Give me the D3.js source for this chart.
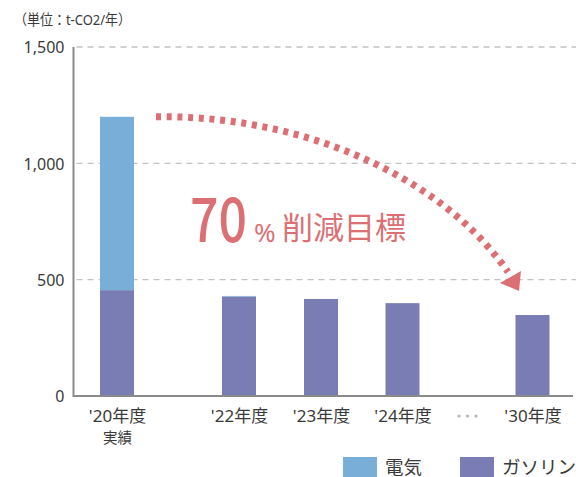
<!DOCTYPE html>
<html>
<head>
<meta charset="utf-8">
<script src="https://cdn.jsdelivr.net/npm/d3@7"></script>
<style>
  html, body { margin: 0; padding: 0; background: #fff; }
  svg { display: block; }
  text { font-family: 'Noto Sans', 'Noto Sans CJK JP', sans-serif; fill: #3a3a3a; }
</style>
</head>
<body>
<svg id="chart" width="576" height="477"></svg>
<script>
// ---- data ----
const categories = ["'20年度", "'22年度", "'23年度", "'24年度", "'30年度"];
const subLabels = ["実績", "", "", "", ""];
const electricity = [745, 3, 0, 0, 0];
const gasoline = [455, 427, 417, 399, 348];
const seriesNames = ["電気", "ガソリン"];
const yTicks = [0, 500, 1000, 1500];
const unitLabel = "（単位：t-CO2/年）";
const targetNumber = "70";
const targetPercent = "%";
const targetText = "削減目標";

// ---- styles ----
const colors = { "電気": "#79aed9", "ガソリン": "#7a7db4" };
const red = "#dc6f73";

const svg = d3.select("#chart");

const y = d3.scaleLinear().domain([0, 1500]).range([396, 47]);
const x = d3.scaleOrdinal().domain(categories).range([117, 239, 321, 402.5, 532.5]);
const barW = 34;
const axisX = 73.5, rightX = 576;

// gridlines
svg.append("g").selectAll("line")
  .data(yTicks.filter(d => d > 0))
  .join("line")
  .attr("x1", axisX + 3).attr("x2", rightX)
  .attr("y1", d => y(d)).attr("y2", d => y(d))
  .attr("stroke", "#c2c2c2").attr("stroke-width", 1.3)
  .attr("stroke-dasharray", "6,5");

// stacked bars
const rows = categories.map((c, i) => ({ cat: c, "ガソリン": gasoline[i], "電気": electricity[i] }));
const stack = d3.stack().keys(["ガソリン", "電気"])(rows);
svg.append("g").selectAll("g")
  .data(stack).join("g")
  .attr("fill", d => colors[d.key])
  .selectAll("rect")
  .data(d => d.filter(p => p[1] - p[0] > 0))
  .join("rect")
  .attr("x", d => x(d.data.cat) - barW / 2)
  .attr("width", barW)
  .attr("y", d => y(d[1]))
  .attr("height", d => y(d[0]) - y(d[1]));

// y axis
const yAxis = d3.axisLeft(y).tickValues(yTicks).tickFormat(d3.format(",")).tickSize(0).tickPadding(9);
const gy = svg.append("g").attr("transform", `translate(${axisX},0)`).call(yAxis);
gy.select(".domain").remove();
gy.selectAll("text").attr("font-size", 16).attr("fill", "#3a3a3a")
  .style("font-family", "'Noto Sans', 'Noto Sans CJK JP', sans-serif").attr("dy", "0.36em");
svg.append("line").attr("x1", axisX).attr("x2", axisX).attr("y1", y(1500)).attr("y2", y(0) + 1)
  .attr("stroke", "#8a8a8a").attr("stroke-width", 2);
svg.append("line").attr("x1", axisX).attr("x2", 573).attr("y1", y(0)).attr("y2", y(0))
  .attr("stroke", "#8a8a8a").attr("stroke-width", 2);

// x axis labels
const gx = svg.append("g").attr("transform", `translate(0,${y(0)})`)
  .call(d3.axisBottom(x).tickSize(0).tickPadding(0));
gx.select(".domain").remove();
gx.selectAll("text").remove();
gx.selectAll(".tick").append("text")
  .attr("y", 26).attr("text-anchor", "middle").attr("font-size", 17)
  .style("fill", "#3a3a3a")
  .text(d => d);
gx.selectAll(".tick").append("text")
  .attr("y", 47).attr("text-anchor", "middle").attr("font-size", 14.5)
  .style("fill", "#3a3a3a")
  .text(d => subLabels[categories.indexOf(d)]);

// ellipsis dots between '24 and '30
const midX = (x(categories[3]) + x(categories[4])) / 2;
svg.append("g").selectAll("circle").data([-8.5, 0, 8.5]).join("circle")
  .attr("cx", d => midX + d).attr("cy", y(0) + 20).attr("r", 1.6).attr("fill", "#b5b5b5");

// unit label
svg.append("text").attr("x", 14).attr("y", 25).attr("font-size", 14.5)
  .attr("textLength", 117).attr("lengthAdjust", "spacingAndGlyphs").text(unitLabel);

// arrow annotation
const sx = x(categories[0]) + barW / 2 + 22, sy = y(1200);
const ex = x(categories[4]) - 24.5, ey = y(533);
const p = d3.path();
p.moveTo(sx, sy);
p.bezierCurveTo(sx + 140, sy - 2, ex - 70, ey - 100, ex, ey);
svg.append("path").attr("d", p.toString()).attr("fill", "none")
  .attr("stroke", red).attr("stroke-width", 7).attr("stroke-dasharray", "5,5.7");
svg.append("polygon")
  .attr("points", [[ex - 8, ey + 11], [ex + 13, ey - 1], [ex + 11, ey + 19]].map(q => q.join(",")).join(" "))
  .attr("fill", red);

// target text
svg.append("text").attr("x", 190).attr("y", 242).attr("font-size", 62)
  .attr("font-weight", 500)
  .attr("textLength", 57).attr("lengthAdjust", "spacingAndGlyphs")
  .style("font-family", "'Noto Sans CJK JP', sans-serif")
  .style("fill", red).text(targetNumber);
svg.append("text").attr("x", 254).attr("y", 242).attr("font-size", 26)
  .style("fill", red).text(targetPercent);
svg.append("text").attr("x", 282).attr("y", 239).attr("font-size", 31)
  .style("font-family", "'Noto Sans CJK JP', sans-serif")
  .style("fill", red).text(targetText);

// legend
const legendPos = [343, 460];
const lg = svg.append("g").selectAll("g").data(seriesNames).join("g")
  .attr("transform", (d, i) => `translate(${legendPos[i]},457)`);
lg.append("rect").attr("width", 34).attr("height", 24).attr("fill", d => colors[d]);
lg.append("text").attr("x", 42).attr("y", 16.5).attr("font-size", 18.5)
  .style("font-family", "'Noto Sans CJK JP', sans-serif").text(d => d);
</script>
</body>
</html>
